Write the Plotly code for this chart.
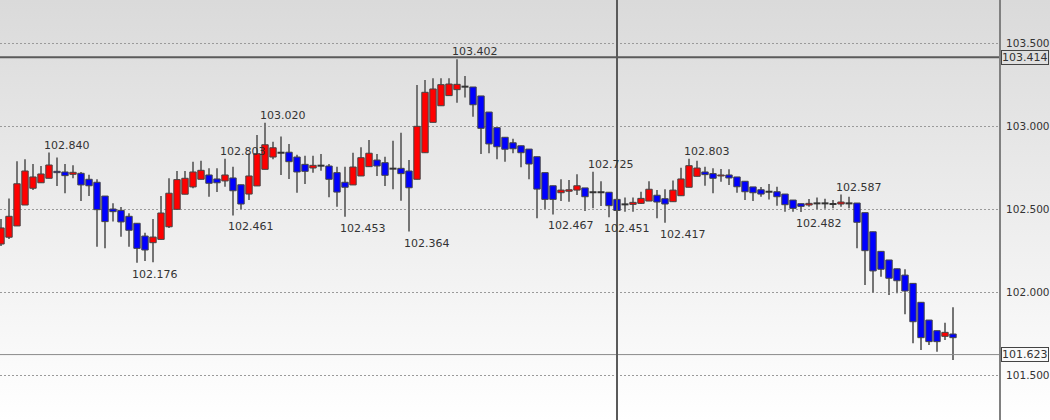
import base64
import plotly.graph_objects as go

opens = [102.289,102.330,102.398,102.524,102.625,102.658,102.685,102.727,102.723,102.709,
         102.715,102.679,102.661,102.578,102.500,102.492,102.456,102.414,102.337,102.297,
         102.317,102.393,102.498,102.589,102.633,102.679,102.705,102.681,102.669,102.687,
         102.646,102.590,102.639,102.739,102.813,102.839,102.842,102.813,102.769,102.747,
         102.761,102.759,102.719,102.661,102.645,102.699,102.755,102.795,102.779,102.743,
         102.745,102.729,102.679,102.839,103.022,103.122,103.183,103.219,103.237,103.235,
         103.181,103.084,102.990,102.932,102.899,102.881,102.861,102.815,102.719,102.640,
         102.598,102.607,102.614,102.627,102.601,102.601,102.601,102.558,102.528,102.528,
         102.534,102.548,102.583,102.562,102.544,102.580,102.631,102.697,102.723,102.713,
         102.699,102.705,102.693,102.667,102.633,102.616,102.604,102.604,102.590,102.554,
         102.532,102.524,102.534,102.534,102.530,102.530,102.534,102.536,102.478,102.363,
         102.245,102.193,102.140,102.102,102.052,101.938,101.831,101.767,101.733,101.747]

highs = [102.440,102.564,102.787,102.799,102.771,102.759,102.840,102.811,102.771,102.763,
         102.723,102.707,102.679,102.578,102.534,102.512,102.474,102.414,102.357,102.440,
         102.578,102.685,102.729,102.729,102.785,102.791,102.745,102.745,102.803,102.755,
         102.646,102.836,102.946,103.020,102.905,102.936,102.892,102.827,102.821,102.821,
         102.831,102.771,102.755,102.755,102.839,102.872,102.916,102.831,102.815,102.911,
         102.960,102.795,103.247,103.277,103.287,103.287,103.287,103.402,103.301,103.235,
         103.181,103.084,102.990,102.932,102.923,102.881,102.861,102.815,102.719,102.640,
         102.679,102.675,102.709,102.627,102.725,102.667,102.601,102.572,102.570,102.570,
         102.604,102.667,102.614,102.619,102.671,102.749,102.803,102.791,102.755,102.745,
         102.741,102.739,102.693,102.667,102.633,102.633,102.651,102.634,102.590,102.554,
         102.532,102.560,102.570,102.562,102.554,102.587,102.574,102.536,102.478,102.363,
         102.245,102.193,102.140,102.137,102.052,101.938,101.831,101.767,101.815,101.908]

lows = [102.277,102.319,102.398,102.524,102.614,102.658,102.685,102.639,102.595,102.685,
        102.548,102.578,102.273,102.263,102.424,102.333,102.273,102.176,102.187,102.180,
        102.317,102.386,102.498,102.589,102.625,102.679,102.574,102.602,102.634,102.461,
        102.498,102.554,102.639,102.739,102.799,102.705,102.681,102.598,102.651,102.719,
        102.731,102.571,102.514,102.453,102.645,102.699,102.755,102.699,102.639,102.619,
        102.550,102.364,102.679,102.839,103.022,103.122,103.183,103.140,103.171,103.056,
        102.831,102.836,102.799,102.785,102.836,102.751,102.679,102.444,102.498,102.467,
        102.548,102.544,102.584,102.488,102.504,102.518,102.451,102.464,102.484,102.484,
        102.530,102.548,102.444,102.417,102.544,102.580,102.631,102.697,102.640,102.595,
        102.664,102.645,102.598,102.554,102.548,102.574,102.558,102.520,102.484,102.484,
        102.482,102.514,102.498,102.502,102.504,102.514,102.504,102.263,102.042,101.996,
        102.092,101.982,101.992,101.866,101.691,101.651,101.681,101.640,101.711,101.590]

closes = [102.386,102.456,102.652,102.729,102.693,102.711,102.765,102.719,102.701,102.721,
          102.645,102.640,102.496,102.424,102.484,102.422,102.372,102.263,102.253,102.331,
          102.476,102.595,102.677,102.685,102.723,102.733,102.655,102.658,102.705,102.610,
          102.530,102.699,102.833,102.887,102.869,102.839,102.785,102.723,102.727,102.763,
          102.761,102.679,102.602,102.631,102.753,102.809,102.836,102.759,102.703,102.743,
          102.713,102.628,102.998,103.203,103.223,103.249,103.253,103.251,103.237,103.128,
          102.986,102.892,102.875,102.860,102.863,102.839,102.771,102.620,102.558,102.558,
          102.614,102.616,102.640,102.574,102.601,102.601,102.520,102.491,102.528,102.540,
          102.564,102.619,102.542,102.530,102.614,102.681,102.761,102.747,102.707,102.685,
          102.705,102.687,102.634,102.604,102.598,102.590,102.604,102.574,102.526,102.504,
          102.516,102.534,102.534,102.534,102.530,102.542,102.534,102.420,102.249,102.127,
          102.137,102.083,102.068,102.006,101.821,101.725,101.701,101.701,101.757,101.725]

# extreme labels: (candle index, value, "high"/"low")
label_idx = [6, 28, 33, 57, 74, 86, 105, 17, 29, 43, 51, 69, 76, 83, 100]
label_val = [102.840, 102.803, 103.020, 103.402, 102.725, 102.803, 102.587,
             102.176, 102.461, 102.453, 102.364, 102.467, 102.451, 102.417, 102.482]
label_kind = ["high"] * 7 + ["low"] * 8

tick_vals = [101.5, 102.0, 102.5, 103.0, 103.5]
tick_text = ["101.500", "102.000", "102.500", "103.000", "103.500"]

upper_line = 103.414
lower_line = 101.623
cursor_index = 77

n = len(opens)
xs = list(range(n))
FONT = "DejaVu Sans"
BODY_W = 0.8
WICK_W = 0.25

fig = go.Figure()

# wicks (bar trace so they sit beneath the bodies in the same layer)
fig.add_trace(go.Bar(x=xs, base=lows, y=[h - l for h, l in zip(highs, lows)],
                     width=WICK_W,
                     marker=dict(color="#747474", line=dict(width=0)),
                     hoverinfo="skip", showlegend=False))

# bodies
up_x = [i for i in xs if closes[i] > opens[i]]
dn_x = [i for i in xs if closes[i] < opens[i]]
dj_x = [i for i in xs if closes[i] == opens[i]]

fig.add_trace(go.Bar(x=up_x, base=[opens[i] for i in up_x],
                     y=[closes[i] - opens[i] for i in up_x], width=BODY_W,
                     marker=dict(color="#ff0000", line=dict(color="#444444", width=1)),
                     hoverinfo="skip", showlegend=False))
fig.add_trace(go.Bar(x=dn_x, base=[closes[i] for i in dn_x],
                     y=[opens[i] - closes[i] for i in dn_x], width=BODY_W,
                     marker=dict(color="#0000ff", line=dict(color="#444444", width=1)),
                     hoverinfo="skip", showlegend=False))
fig.add_trace(go.Scatter(x=dj_x, y=[opens[i] for i in dj_x], mode="markers",
                         marker=dict(symbol="line-ew", size=5,
                                     line=dict(color="#333333", width=2)),
                         hoverinfo="skip", showlegend=False))

# background gradient
svg = ('<svg xmlns="http://www.w3.org/2000/svg" width="10" height="100" preserveAspectRatio="none">'
       '<defs><linearGradient id="g" x1="0" y1="0" x2="0" y2="1">'
       '<stop offset="0" stop-color="#dadada"/><stop offset="1" stop-color="#ffffff"/>'
       '</linearGradient></defs><rect width="10" height="100" fill="url(#g)"/></svg>')
src = "data:image/svg+xml;base64," + base64.b64encode(svg.encode()).decode()

W, H = 1050, 420
ML, MR = 0, 51
pw = W - ML - MR

annotations = []
for i, v, k in zip(label_idx, label_val, label_kind):
    annotations.append(dict(
        x=i, y=v, xref="x", yref="y", text=f"{v:.3f}", showarrow=False,
        xanchor="left", xshift=-7,
        yanchor="bottom" if k == "high" else "top",
        yshift=-1 if k == "high" else -3,
        font=dict(family=FONT, size=11, color="#333333")))
for v in (upper_line, lower_line):
    annotations.append(dict(
        x=1, y=v, xref="paper", yref="y", text=f"{v:.3f}", showarrow=False,
        xanchor="left", xshift=2, yanchor="middle",
        bordercolor="#444444", borderwidth=1, borderpad=0,
        bgcolor="rgba(255,255,255,0)",
        font=dict(family=FONT, size=11, color="#333333")))

shapes = [
    dict(type="line", xref="paper", yref="y", x0=0, x1=1, y0=upper_line, y1=upper_line,
         line=dict(color="#5a5a5a", width=2)),
    dict(type="line", xref="paper", yref="y", x0=0, x1=1, y0=lower_line, y1=lower_line,
         line=dict(color="#8a8a8a", width=1)),
    dict(type="line", xref="x", yref="paper", x0=cursor_index, x1=cursor_index, y0=0, y1=1,
         line=dict(color="#5a5a5a", width=2)),
]

fig.update_layout(
    width=W, height=H,
    margin=dict(l=ML, r=MR, t=0, b=0, pad=0, autoexpand=False),
    paper_bgcolor="#ffffff", plot_bgcolor="rgba(0,0,0,0)",
    images=[dict(source=src, xref="paper", yref="paper", x=0, y=1,
                 sizex=W / pw, sizey=1, xanchor="left", yanchor="top",
                 sizing="stretch", layer="below")],
    xaxis=dict(range=[-0.125, -0.125 + pw / 8.0], visible=False, fixedrange=True,
               automargin=False),
    yaxis=dict(range=[101.229, 103.759], side="right", automargin=False,
               tickvals=tick_vals, ticktext=tick_text,
               showgrid=True, gridcolor="#9a9a9a", gridwidth=1, griddash="2px,2px",
               zeroline=False, showline=True, linecolor="#808080", linewidth=2,
               ticks="outside", ticklen=3, tickcolor="rgba(0,0,0,0)",
               tickfont=dict(family=FONT, size=10.5, color="#333333"),
               fixedrange=True),
    barmode="overlay",
    hovermode=False,
    showlegend=False,
    annotations=annotations,
    shapes=shapes,
)

fig.write_html("out.html", config={"displayModeBar": False},
               post_script="document.body.style.margin='0';document.body.style.padding='0';")
